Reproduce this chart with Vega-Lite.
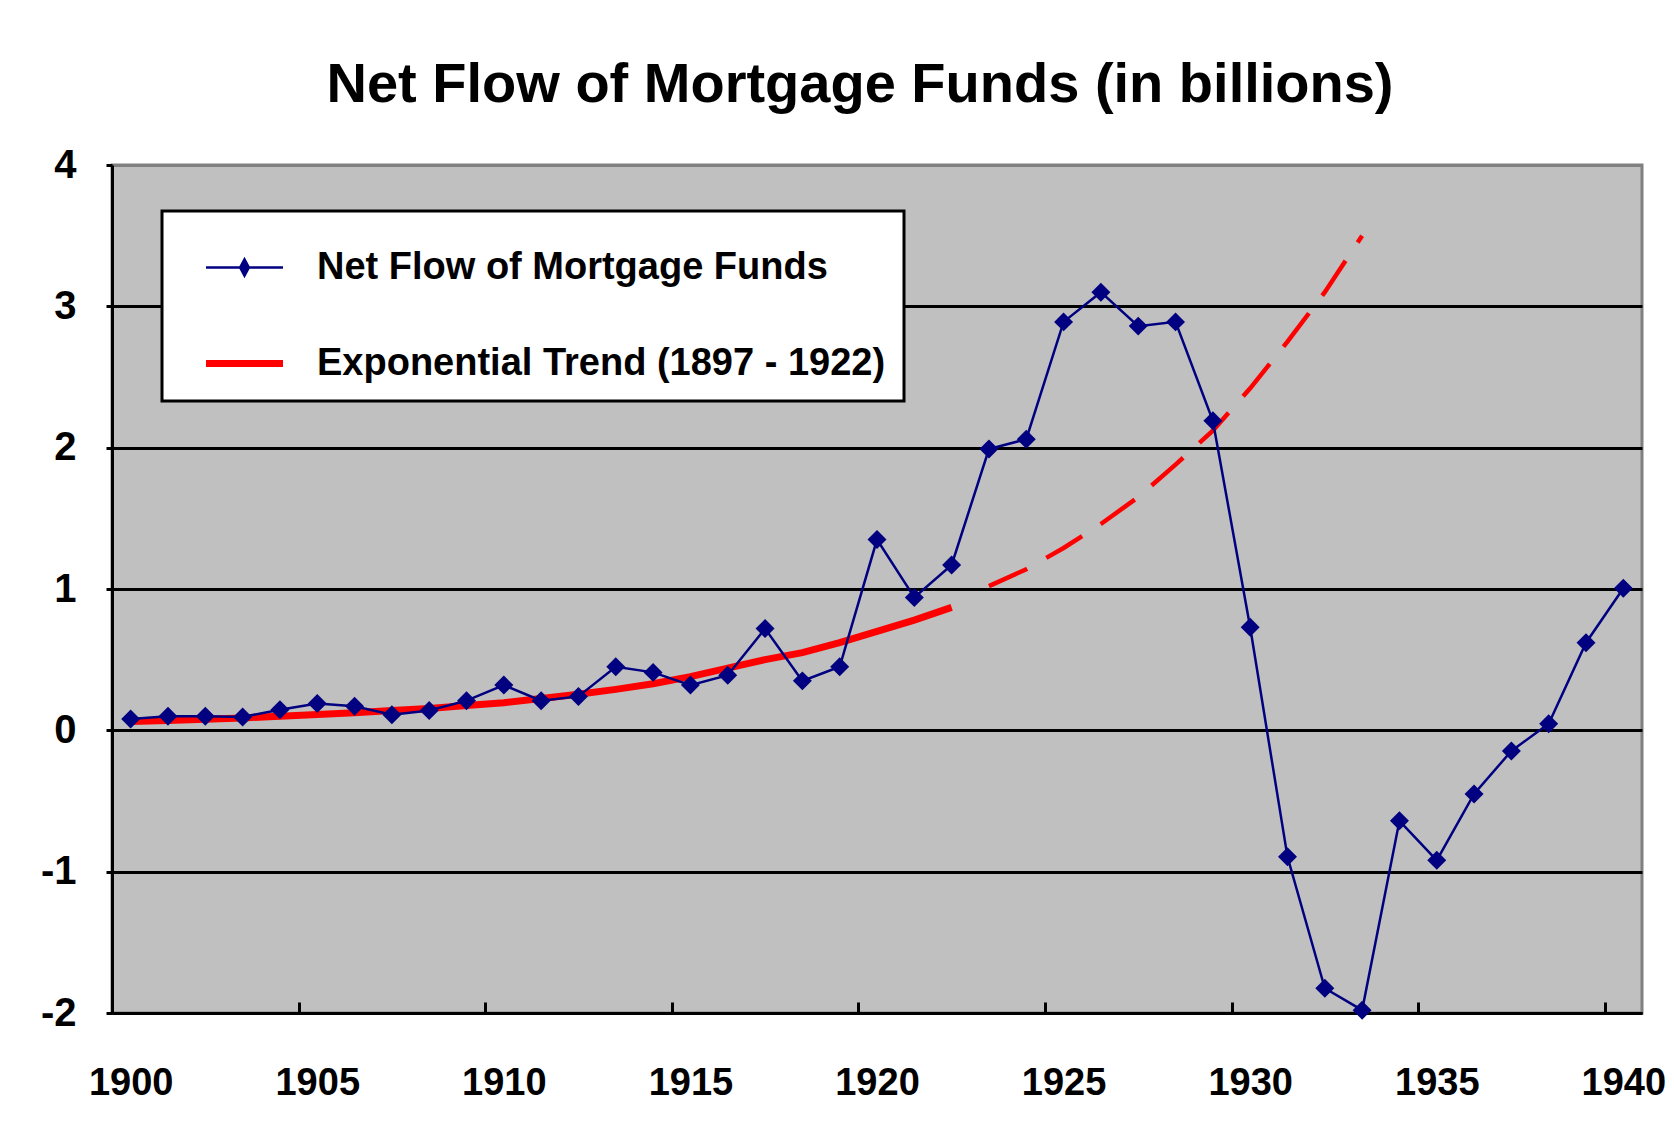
{
  "$schema": "https://vega.github.io/schema/vega-lite/v6.json",
  "width": 1530,
  "height": 848,
  "autosize": {"type": "none"},
  "padding": {"left": 112, "top": 165, "right": 32, "bottom": 133},
  "background": "white",
  "title": {
    "text": "Net Flow of Mortgage Funds (in billions)",
    "font": "Liberation Sans",
    "fontSize": 56,
    "fontWeight": "bold",
    "color": "black",
    "anchor": "middle",
    "dx": -17,
    "dy": 57,
    "offset": 44,
    "baseline": "alphabetic"
  },
  "config": {
    "view": {"fill": "#C0C0C0", "stroke": "#808080", "strokeWidth": 3}
  },
  "data": {
    "values": [
      {"year": 1900, "series": "Net Flow of Mortgage Funds", "part": "actual", "value": 0.08},
      {"year": 1901, "series": "Net Flow of Mortgage Funds", "part": "actual", "value": 0.10},
      {"year": 1902, "series": "Net Flow of Mortgage Funds", "part": "actual", "value": 0.10},
      {"year": 1903, "series": "Net Flow of Mortgage Funds", "part": "actual", "value": 0.095},
      {"year": 1904, "series": "Net Flow of Mortgage Funds", "part": "actual", "value": 0.145},
      {"year": 1905, "series": "Net Flow of Mortgage Funds", "part": "actual", "value": 0.19},
      {"year": 1906, "series": "Net Flow of Mortgage Funds", "part": "actual", "value": 0.17},
      {"year": 1907, "series": "Net Flow of Mortgage Funds", "part": "actual", "value": 0.11},
      {"year": 1908, "series": "Net Flow of Mortgage Funds", "part": "actual", "value": 0.14},
      {"year": 1909, "series": "Net Flow of Mortgage Funds", "part": "actual", "value": 0.21},
      {"year": 1910, "series": "Net Flow of Mortgage Funds", "part": "actual", "value": 0.32},
      {"year": 1911, "series": "Net Flow of Mortgage Funds", "part": "actual", "value": 0.21},
      {"year": 1912, "series": "Net Flow of Mortgage Funds", "part": "actual", "value": 0.24},
      {"year": 1913, "series": "Net Flow of Mortgage Funds", "part": "actual", "value": 0.45},
      {"year": 1914, "series": "Net Flow of Mortgage Funds", "part": "actual", "value": 0.41},
      {"year": 1915, "series": "Net Flow of Mortgage Funds", "part": "actual", "value": 0.32},
      {"year": 1916, "series": "Net Flow of Mortgage Funds", "part": "actual", "value": 0.39},
      {"year": 1917, "series": "Net Flow of Mortgage Funds", "part": "actual", "value": 0.72},
      {"year": 1918, "series": "Net Flow of Mortgage Funds", "part": "actual", "value": 0.35},
      {"year": 1919, "series": "Net Flow of Mortgage Funds", "part": "actual", "value": 0.45},
      {"year": 1920, "series": "Net Flow of Mortgage Funds", "part": "actual", "value": 1.35},
      {"year": 1921, "series": "Net Flow of Mortgage Funds", "part": "actual", "value": 0.94},
      {"year": 1922, "series": "Net Flow of Mortgage Funds", "part": "actual", "value": 1.17},
      {"year": 1923, "series": "Net Flow of Mortgage Funds", "part": "actual", "value": 1.99},
      {"year": 1924, "series": "Net Flow of Mortgage Funds", "part": "actual", "value": 2.06},
      {"year": 1925, "series": "Net Flow of Mortgage Funds", "part": "actual", "value": 2.89},
      {"year": 1926, "series": "Net Flow of Mortgage Funds", "part": "actual", "value": 3.10},
      {"year": 1927, "series": "Net Flow of Mortgage Funds", "part": "actual", "value": 2.86},
      {"year": 1928, "series": "Net Flow of Mortgage Funds", "part": "actual", "value": 2.89},
      {"year": 1929, "series": "Net Flow of Mortgage Funds", "part": "actual", "value": 2.19},
      {"year": 1930, "series": "Net Flow of Mortgage Funds", "part": "actual", "value": 0.73},
      {"year": 1931, "series": "Net Flow of Mortgage Funds", "part": "actual", "value": -0.895},
      {"year": 1932, "series": "Net Flow of Mortgage Funds", "part": "actual", "value": -1.825},
      {"year": 1933, "series": "Net Flow of Mortgage Funds", "part": "actual", "value": -1.98},
      {"year": 1934, "series": "Net Flow of Mortgage Funds", "part": "actual", "value": -0.64},
      {"year": 1935, "series": "Net Flow of Mortgage Funds", "part": "actual", "value": -0.92},
      {"year": 1936, "series": "Net Flow of Mortgage Funds", "part": "actual", "value": -0.45},
      {"year": 1937, "series": "Net Flow of Mortgage Funds", "part": "actual", "value": -0.146},
      {"year": 1938, "series": "Net Flow of Mortgage Funds", "part": "actual", "value": 0.047},
      {"year": 1939, "series": "Net Flow of Mortgage Funds", "part": "actual", "value": 0.62},
      {"year": 1940, "series": "Net Flow of Mortgage Funds", "part": "actual", "value": 1.005},
      {"year": 1900, "series": "Exponential Trend (1897 - 1922)", "part": "fit", "value": 0.063},
      {"year": 1901, "series": "Exponential Trend (1897 - 1922)", "part": "fit", "value": 0.07},
      {"year": 1902, "series": "Exponential Trend (1897 - 1922)", "part": "fit", "value": 0.078},
      {"year": 1903, "series": "Exponential Trend (1897 - 1922)", "part": "fit", "value": 0.088},
      {"year": 1904, "series": "Exponential Trend (1897 - 1922)", "part": "fit", "value": 0.10},
      {"year": 1905, "series": "Exponential Trend (1897 - 1922)", "part": "fit", "value": 0.112},
      {"year": 1906, "series": "Exponential Trend (1897 - 1922)", "part": "fit", "value": 0.125},
      {"year": 1907, "series": "Exponential Trend (1897 - 1922)", "part": "fit", "value": 0.14},
      {"year": 1908, "series": "Exponential Trend (1897 - 1922)", "part": "fit", "value": 0.155},
      {"year": 1909, "series": "Exponential Trend (1897 - 1922)", "part": "fit", "value": 0.175},
      {"year": 1910, "series": "Exponential Trend (1897 - 1922)", "part": "fit", "value": 0.195},
      {"year": 1911, "series": "Exponential Trend (1897 - 1922)", "part": "fit", "value": 0.225},
      {"year": 1912, "series": "Exponential Trend (1897 - 1922)", "part": "fit", "value": 0.255},
      {"year": 1913, "series": "Exponential Trend (1897 - 1922)", "part": "fit", "value": 0.29},
      {"year": 1914, "series": "Exponential Trend (1897 - 1922)", "part": "fit", "value": 0.33},
      {"year": 1915, "series": "Exponential Trend (1897 - 1922)", "part": "fit", "value": 0.38},
      {"year": 1916, "series": "Exponential Trend (1897 - 1922)", "part": "fit", "value": 0.44},
      {"year": 1917, "series": "Exponential Trend (1897 - 1922)", "part": "fit", "value": 0.50},
      {"year": 1918, "series": "Exponential Trend (1897 - 1922)", "part": "fit", "value": 0.55},
      {"year": 1919, "series": "Exponential Trend (1897 - 1922)", "part": "fit", "value": 0.62},
      {"year": 1920, "series": "Exponential Trend (1897 - 1922)", "part": "fit", "value": 0.70},
      {"year": 1921, "series": "Exponential Trend (1897 - 1922)", "part": "fit", "value": 0.78},
      {"year": 1922, "series": "Exponential Trend (1897 - 1922)", "part": "fit", "value": 0.87},
      {"year": 1923, "series": "Exponential Trend (1897 - 1922)", "part": "proj", "value": 1.02},
      {"year": 1924, "series": "Exponential Trend (1897 - 1922)", "part": "proj", "value": 1.14},
      {"year": 1925, "series": "Exponential Trend (1897 - 1922)", "part": "proj", "value": 1.29},
      {"year": 1926, "series": "Exponential Trend (1897 - 1922)", "part": "proj", "value": 1.46},
      {"year": 1927, "series": "Exponential Trend (1897 - 1922)", "part": "proj", "value": 1.65},
      {"year": 1928, "series": "Exponential Trend (1897 - 1922)", "part": "proj", "value": 1.88},
      {"year": 1929, "series": "Exponential Trend (1897 - 1922)", "part": "proj", "value": 2.12},
      {"year": 1930, "series": "Exponential Trend (1897 - 1922)", "part": "proj", "value": 2.42},
      {"year": 1931, "series": "Exponential Trend (1897 - 1922)", "part": "proj", "value": 2.75},
      {"year": 1932, "series": "Exponential Trend (1897 - 1922)", "part": "proj", "value": 3.10},
      {"year": 1933, "series": "Exponential Trend (1897 - 1922)", "part": "proj", "value": 3.50}
    ]
  },
  "encoding": {
    "x": {
      "field": "year",
      "type": "quantitative",
      "scale": {"domain": [1899.5, 1940.5], "nice": false, "zero": false},
      "axis": {
        "title": null,
        "values": [1899.5, 1904.5, 1909.5, 1914.5, 1919.5, 1924.5, 1929.5, 1934.5, 1939.5],
        "labelExpr": "'' + (datum.value + 0.5)",
        "labelOffset": 18.66,
        "labelFlush": false,
        "labelOverlap": false,
        "labelBound": false,
        "grid": false,
        "domainColor": "black",
        "domainWidth": 3,
        "tickColor": "black",
        "tickWidth": 3,
        "tickSize": -11,
        "labelPadding": 62,
        "labelFont": "Liberation Sans",
        "labelFontSize": 38,
        "labelFontWeight": "bold",
        "labelColor": "black"
      }
    },
    "y": {
      "field": "value",
      "type": "quantitative",
      "scale": {"domain": [-2, 4], "nice": false, "zero": false},
      "axis": {
        "title": null,
        "values": [-2, -1, 0, 1, 2, 3, 4],
        "labelExpr": "datum.value < 0 ? '-' + abs(datum.value) : '' + datum.value",
        "grid": true,
        "gridColor": {"condition": {"test": "datum.value === 4", "value": "#808080"}, "value": "black"},
        "gridWidth": 3,
        "domainColor": "black",
        "domainWidth": 3,
        "tickColor": "black",
        "tickWidth": 3,
        "tickSize": 6,
        "labelPadding": 30,
        "labelFlush": false,
        "labelOverlap": false,
        "labelBound": false,
        "labelFont": "Liberation Sans",
        "labelFontSize": 40,
        "labelFontWeight": "bold",
        "labelColor": "black"
      }
    }
  },
  "layer": [
    {
      "transform": [{"filter": "datum.part === 'fit'"}],
      "mark": {"type": "line", "color": "#FF0000", "strokeWidth": 7, "strokeCap": "butt"}
    },
    {
      "transform": [{"filter": "datum.part === 'proj'"}],
      "mark": {"type": "line", "color": "#FF0000", "strokeWidth": 4.5, "strokeDash": [42, 22], "strokeCap": "butt"}
    },
    {
      "transform": [{"filter": "datum.part === 'actual'"}],
      "mark": {"type": "line", "color": "#000080", "strokeWidth": 2.5}
    },
    {
      "transform": [{"filter": "datum.part === 'actual'"}],
      "mark": {"type": "point", "shape": "diamond", "filled": true, "size": 360, "color": "#000080", "opacity": 1}
    },
    {
      "mark": {"type": "point", "filled": true, "opacity": 0},
      "encoding": {
        "color": {
          "field": "series",
          "type": "nominal",
          "scale": {"domain": ["Net Flow of Mortgage Funds", "Exponential Trend (1897 - 1922)"], "range": ["#000080", "#FF0000"]},
          "legend": {
            "title": null, "orient": "none", "legendX": 50, "legendY": 46, "direction": "vertical",
            "fillColor": "white", "strokeColor": "black", "padding": 18,
            "symbolSize": 5929, "symbolStrokeWidth": 0, "symbolOffset": 26, "symbolOpacity": 1,
            "labelOffset": 34, "rowPadding": 38,
            "labelFont": "Liberation Sans", "labelFontSize": 38, "labelFontWeight": "bold", "labelColor": "black", "labelLimit": 2000,
            "encode": {"legend": {"update": {"strokeWidth": {"value": 3}}}}
          }
        },
        "shape": {
          "field": "series",
          "type": "nominal",
          "scale": {"domain": ["Net Flow of Mortgage Funds", "Exponential Trend (1897 - 1922)"], "range": ["M-1,-0.033H1V0.033H-1Z M0,-0.28L0.15,0L0,0.28L-0.15,0Z", "M-1,-0.09H1V0.09H-1Z"]},
          "legend": {
            "title": null, "orient": "none", "legendX": 50, "legendY": 46, "direction": "vertical",
            "fillColor": "white", "strokeColor": "black", "padding": 18,
            "symbolSize": 5929, "symbolStrokeWidth": 0, "symbolOffset": 26, "symbolOpacity": 1,
            "labelOffset": 34, "rowPadding": 38,
            "labelFont": "Liberation Sans", "labelFontSize": 38, "labelFontWeight": "bold", "labelColor": "black", "labelLimit": 2000,
            "encode": {"legend": {"update": {"strokeWidth": {"value": 3}}}}
          }
        }
      }
    }
  ]
}
